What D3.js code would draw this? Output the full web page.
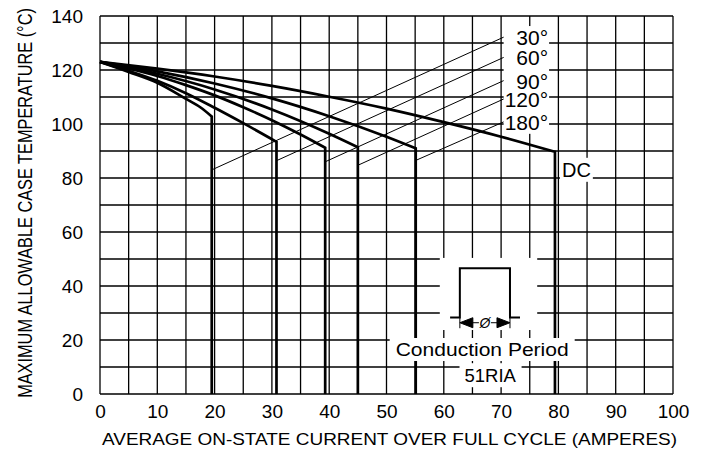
<!DOCTYPE html>
<html>
<head>
<meta charset="utf-8">
<script src="https://cdn.jsdelivr.net/npm/d3@7"></script>
<style>
  body { margin: 0; background: #fff; }
  svg { display: block; font-family: "Liberation Sans", Arial, sans-serif; }
</style>
</head>
<body>
<div id="chart"></div>
<script>
// tick labels
var xTicks = [0, 10, 20, 30, 40, 50, 60, 70, 80, 90, 100];
var yTicks = [0, 20, 40, 60, 80, 100, 120, 140];

// curves: [average current (A), max case temperature (C)]
var seriesNames = ["30°", "60°", "90°", "120°", "180°", "DC"];
var curve30 = [[0, 123], [5, 119.3], [10, 115.3], [15, 109.3], [17.5, 106.2], [19.5, 102.8]];
var curve60 = [[0, 123], [5, 119.7], [10, 116], [15, 111.4], [20, 106], [25, 100.3], [30.8, 93.4]];
var curve90 = [[0, 123], [5, 120.6], [10, 117.8], [15, 114.4], [20, 110.6], [25, 106.2], [30, 101.4], [35, 96.1], [39.3, 91.2]];
var curve120 = [[0, 123], [10, 118.6], [20, 112.8], [30, 105.4], [40, 96.4], [45, 91.4]];
var curve180 = [[0, 123], [10, 119.5], [20, 115], [30, 109.5], [40, 102.9], [50, 95.3], [55.1, 91]];
var curveDC = [[0, 123], [10, 120.5], [20, 117.6], [30, 114.1], [40, 110.1], [50, 105.7], [60, 100.7], [70, 95.3], [79.4, 89.7]];
var curves = [curve30, curve60, curve90, curve120, curve180, curveDC];

// leader lines from each curve to its label
var leaderFrom = [[19.5, 83], [30.9, 86.5], [39.3, 86], [45.1, 84.8], [55.2, 86.6]];
var leaderTo = [[70.9, 132.6], [70.9, 125.1], [70.9, 116.5], [70.9, 109.7], [70.9, 101.2]];

var width = 704, height = 450;
var svg = d3.select('#chart').append('svg').attr('width', width).attr('height', height);

var x = d3.scaleLinear().domain([0, 100]).range([100, 673]);
var y = d3.scaleLinear().domain([0, 140]).range([394, 16]);

// grid
var grid = svg.append('g').attr('stroke', '#000').attr('stroke-width', 1.3);
grid.selectAll('.vx').data(d3.range(0, 101, 5)).enter().append('line')
  .attr('x1', function(d){ return x(d); }).attr('x2', function(d){ return x(d); })
  .attr('y1', y(0)).attr('y2', y(140));
grid.selectAll('.hy').data(d3.range(0, 141, 10)).enter().append('line')
  .attr('y1', function(d){ return y(d); }).attr('y2', function(d){ return y(d); })
  .attr('x1', x(0)).attr('x2', x(100));

// axes (labels only)
var xAxis = svg.append('g').attr('transform', 'translate(0,' + y(0) + ')')
  .call(d3.axisBottom(x).tickValues(xTicks).tickSize(0).tickPadding(11));
var yAxis = svg.append('g').attr('transform', 'translate(' + x(0) + ',0)')
  .call(d3.axisLeft(y).tickValues(yTicks).tickSize(0).tickPadding(17));
[xAxis, yAxis].forEach(function(a){
  a.select('.domain').remove();
  a.selectAll('text').attr('font-size', 19).attr('fill', '#000')
    .attr('font-family', '"Liberation Sans", Arial, sans-serif');
});
yAxis.selectAll('text').attr('dy', '0.36em');

// curves with vertical drop to 0
var line = d3.line().x(function(d){ return x(d[0]); }).y(function(d){ return y(d[1]); })
  .curve(d3.curveMonotoneX);
svg.selectAll('.curve').data(curves).enter().append('path')
  .attr('class', 'curve')
  .attr('d', function(d){
    var last = d[d.length - 1];
    return line(d) + 'L' + x(last[0]) + ',' + y(0);
  })
  .attr('fill', 'none').attr('stroke', '#000').attr('stroke-width', 2.7)
  .attr('stroke-linejoin', 'miter');

// leaders
svg.selectAll('.leader').data(leaderFrom).enter().append('line')
  .attr('x1', function(d){ return x(d[0]); }).attr('y1', function(d){ return y(d[1]); })
  .attr('x2', function(d, i){ return x(leaderTo[i][0]); })
  .attr('y2', function(d, i){ return y(leaderTo[i][1]); })
  .attr('stroke', '#000').attr('stroke-width', 1);

// masks + labels
var maskLayer = svg.append('g');
var textLayer = svg.append('g');

function maskFor(node, px, py) {
  var b = node.getBBox();
  return { x0: b.x - px, y0: b.y - py, x1: b.x + b.width + px, y1: b.y + b.height + py };
}
function drawMask(m) {
  maskLayer.append('rect').attr('x', m.x0).attr('y', m.y0)
    .attr('width', m.x1 - m.x0).attr('height', m.y1 - m.y0).attr('fill', '#fff');
}

var angleLabels = textLayer.selectAll('.alab').data(leaderTo).enter().append('text')
  .attr('x', x(78.2)).attr('y', function(d){ return y(d[1]) + 1.5; })
  .attr('dy', '0.36em').attr('text-anchor', 'end').attr('font-size', 21)
  .text(function(d, i){ return seriesNames[i]; });
var u = null;
angleLabels.each(function(){
  var m = maskFor(this, 1, 0);
  if (!u) u = m;
  else { u.x0 = Math.min(u.x0, m.x0); u.y0 = Math.min(u.y0, m.y0); u.x1 = Math.max(u.x1, m.x1); u.y1 = Math.max(u.y1, m.y1); }
});
drawMask(u);

var dc = curveDC[curveDC.length - 1];
var dcLabel = textLayer.append('text').attr('x', x(dc[0]) + 7).attr('y', y(dc[1]) + 25)
  .attr('font-size', 20).text(seriesNames[5]);
drawMask(maskFor(dcLabel.node(), 2, 1));

// inset: conduction period
drawMask({ x0: x(59.3), x1: x(76.3), y0: y(50.4), y1: y(23.7) });
var cp = textLayer.append('text').attr('x', x(66.7)).attr('y', 356).attr('text-anchor', 'middle')
  .attr('font-size', 18.5).attr('textLength', 173).attr('lengthAdjust', 'spacingAndGlyphs')
  .text('Conduction Period');
drawMask(maskFor(cp.node(), 6, 1));
var part = textLayer.append('text').attr('x', x(68.1)).attr('y', 381.7).attr('text-anchor', 'middle')
  .attr('font-size', 18.5).text('51RIA');
drawMask(maskFor(part.node(), 5, 1.5));

var wave = [[61.1, 28.3], [62.8, 28.3], [62.8, 46.6], [71.55, 46.6], [71.55, 28.3], [73.3, 28.3]];
textLayer.append('path').attr('d', d3.line().x(function(d){ return x(d[0]); }).y(function(d){ return y(d[1]); })(wave))
  .attr('fill', 'none').attr('stroke', '#000').attr('stroke-width', 2);
var ay = y(26.4), xl = x(62.8), xr = x(71.55);
var inset = textLayer.append('g').attr('stroke', '#000');
inset.append('line').attr('x1', xl).attr('x2', xl).attr('y1', ay - 5).attr('y2', ay + 5.5).attr('stroke-width', 1);
inset.append('line').attr('x1', xr).attr('x2', xr).attr('y1', ay - 5).attr('y2', ay + 5.5).attr('stroke-width', 1);
inset.append('path').attr('d', 'M' + xl + ',' + ay + 'l13,-5v10z').attr('fill', '#000');
inset.append('path').attr('d', 'M' + xr + ',' + ay + 'l-13,-5v10z').attr('fill', '#000');
var mid = (xl + xr) / 2;
inset.append('line').attr('x1', xl + 12).attr('x2', mid - 6).attr('y1', ay).attr('y2', ay).attr('stroke-width', 1);
inset.append('line').attr('x1', mid + 6).attr('x2', xr - 12).attr('y1', ay).attr('y2', ay).attr('stroke-width', 1);
textLayer.append('text').attr('x', mid).attr('y', ay + 5).attr('text-anchor', 'middle')
  .attr('font-size', 14).attr('font-style', 'italic').text('Ø');

// axis titles
svg.append('text').attr('x', 102).attr('y', 445).attr('font-size', 17)
  .attr('textLength', 575).attr('lengthAdjust', 'spacingAndGlyphs')
  .text('AVERAGE ON-STATE CURRENT OVER FULL CYCLE (AMPERES)');
var yTitle = svg.append('text').attr('text-anchor', 'middle').attr('font-size', 21)
  .text('MAXIMUM ALLOWABLE CASE TEMPERATURE (°C)');
var natural = yTitle.node().getComputedTextLength();
yTitle.attr('transform', 'translate(31.5,203) rotate(-90) scale(' + (390 / natural) + ',1)');
</script>
</body>
</html>
